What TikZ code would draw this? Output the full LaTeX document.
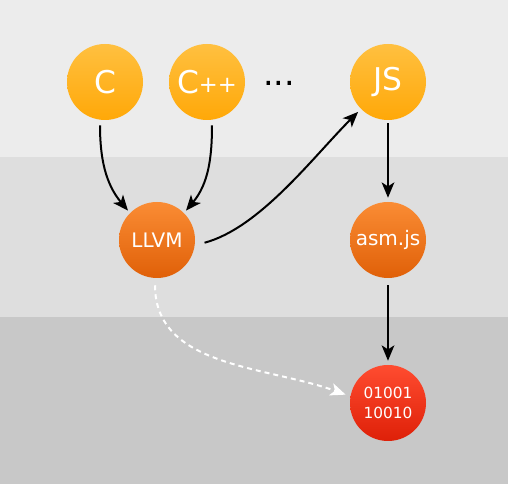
\documentclass[tikz,border=0pt]{standalone}
\usepackage{fontspec}
\setmainfont{DejaVu Sans}
\usetikzlibrary{arrows.meta}
\definecolor{bandA}{HTML}{ECECEC}
\definecolor{bandB}{HTML}{DEDEDE}
\definecolor{bandC}{HTML}{C8C8C8}
\definecolor{yelTop}{HTML}{FFC040}
\definecolor{yelBot}{HTML}{FFA808}
\definecolor{orTop}{HTML}{FA8C34}
\definecolor{orBot}{HTML}{E06008}
\definecolor{rdTop}{HTML}{FF4C30}
\definecolor{rdBot}{HTML}{DE2008}
\tikzset{
  ball/.style={circle, minimum size=57pt, inner sep=0pt, text=white},
  yball/.style={ball, top color=yelTop, bottom color=yelBot},
  oball/.style={ball, top color=orTop, bottom color=orBot},
  rball/.style={ball, top color=rdTop, bottom color=rdBot},
  arr/.style={draw=black, line width=1.5pt, -{Stealth[length=11.5pt,width=9.5pt,inset=3pt]}},
  darr/.style={draw=white, line width=1.5pt, dash pattern=on 3.75pt off 3pt, -{Stealth[length=11.5pt,width=9.5pt,inset=3pt]}},
  big/.style={font=\fontsize{23.5pt}{28pt}\selectfont},
  mid/.style={font=\fontsize{15pt}{18pt}\selectfont},
  small/.style={font=\fontsize{11.5pt}{15pt}\selectfont, align=center}
}
\begin{document}
\begin{tikzpicture}[x=0.75pt,y=-0.75pt]
\useasboundingbox (0,0) rectangle (508,484);
\fill[bandA] (0,0) rectangle (508,157);
\fill[bandB] (0,157) rectangle (508,317);
\fill[bandC] (0,317) rectangle (508,484);
\node[yball, big] (C) at (105,82) {C};
\node[yball, big] (CPP) at (207,82) {C\raisebox{1pt}{\fontsize{17pt}{20pt}\selectfont ++}};
\node[font=\fontsize{25pt}{28pt}\selectfont, anchor=base, inner sep=0pt] (dots) at (279,86) {...};
\node[yball, big] (JS) at (388,82) {JS};
\node[oball, mid] (LLVM) at (157,240) {LLVM};
\node[oball, mid] (ASM) at (388,240) {asm.js};
\node[rball, small] (BIN) at (388,403) {01001\\10010};
\draw[arr, shorten <=3.75pt, shorten >=2.25pt] ([xshift=-3.75pt]C.south) to[out=-90, in=130] (LLVM.north west);
\draw[arr, shorten <=3.75pt, shorten >=2.25pt] ([xshift=3.75pt]CPP.south) to[out=-90, in=50] (LLVM.north east);
\draw[arr, shorten <=7.5pt, shorten >=3pt] (LLVM.-8) to[out=15, in=-135, looseness=0.8] (JS.225);
\draw[arr, shorten <=2.25pt, shorten >=3pt] (JS) -- (ASM);
\draw[arr, shorten <=5.25pt, shorten >=3pt] (ASM) -- (BIN);
\draw[darr, shorten <=5.25pt, shorten >=3.75pt] ([xshift=-1.5pt]LLVM.south) to[out=-90, in=160] (BIN.170);
\end{tikzpicture}
\end{document}
